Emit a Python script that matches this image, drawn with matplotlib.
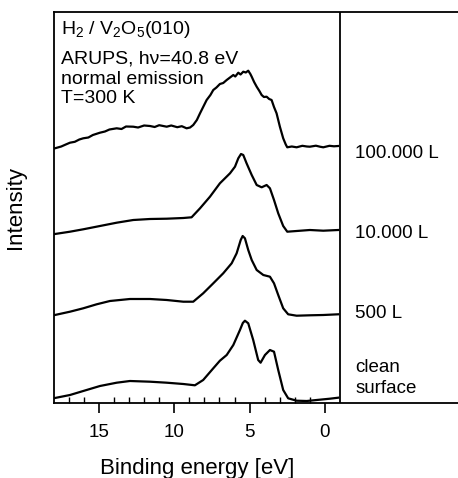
import matplotlib
matplotlib.use('Agg')
import matplotlib.pyplot as plt
from matplotlib.ticker import FixedLocator

plt.rcParams['font.family'] = ['Liberation Sans', 'DejaVu Sans']
plt.rcParams['mathtext.fontset'] = 'custom'
plt.rcParams['mathtext.rm'] = 'Liberation Sans'

# spectra: binding energy [eV] and intensity (arb. units, baseline removed)
e_clean = [17.92, 16.92, 16.04, 14.93, 13.82, 12.94, 11.61, 10.50, 9.40, 8.63,
           8.08, 7.41, 6.97, 6.52, 6.08, 5.64, 5.45, 5.31, 5.09, 4.76, 4.43,
           4.27, 3.98, 3.65, 3.38, 3.10, 2.77, 2.44, 1.88, 1.21, 0.55, -0.33, -0.88]
i_clean = [0, 3, 7, 12, 15.3, 17, 16.3, 15.3, 14, 12.7,
           18, 29.7, 37.3, 43, 53, 68, 75, 77.3, 74.7, 58, 38,
           35.3, 43, 48, 46.3, 28, 8, -0.3, -2.7, -3, -2, -0.7, 0.3]

e_500 = [17.92, 16.92, 16.04, 15.15, 14.27, 12.94, 11.61, 10.50, 9.40, 8.74,
         8.08, 7.41, 6.75, 6.19, 5.86, 5.59, 5.46, 5.31, 5.09, 4.86, 4.53,
         4.09, 3.65, 3.38, 3.10, 2.77, 2.44, 1.88, 1.00, 0.11, -0.88]
i_500 = [0, 3.3, 6.7, 10.7, 14, 16, 16, 15, 13.3, 13.3,
         21.7, 31.7, 41.7, 51.7, 61.7, 75, 79, 76.7, 65, 55, 45,
         40, 38.3, 31.7, 20, 6.7, 0.7, -0.7, -0.3, 0, 0.7]

e_10000 = [17.92, 16.92, 16.04, 14.93, 13.82, 12.72, 11.61, 10.50, 9.40, 8.85,
           8.29, 7.63, 6.97, 6.30, 5.97, 5.75, 5.57, 5.42, 5.20, 4.86, 4.53,
           4.20, 3.87, 3.65, 3.38, 3.10, 2.77, 2.50, 1.88, 1.00, 0.11, -0.88]
i_10000 = [-4, -1.7, 0.7, 4, 7.3, 10, 11, 11.3, 12, 12.7,
           21.7, 33.3, 46.7, 56.7, 63.3, 71.7, 76, 75, 66.7, 55, 45,
           42.7, 45, 41.7, 30, 16.7, 4, -1.7, -1, 0, -0.7, 0]

e_100000 = [17.92, 17.5, 17.2, 16.92, 16.6, 16.3, 16.04, 15.7, 15.4, 14.93,
            14.6, 14.3, 13.82, 13.5, 13.2, 12.72, 12.4, 12.0, 11.61, 11.3,
            11.0, 10.50, 10.2, 9.8, 9.5, 9.18, 8.95, 8.74, 8.5, 8.29,
            7.85, 7.6, 7.41, 7.2, 6.97, 6.75, 6.52, 6.3, 6.08, 5.95,
            5.75, 5.6, 5.42, 5.25, 5.09, 4.95, 4.86, 4.7, 4.53, 4.35,
            4.20, 4.05, 3.87, 3.7, 3.54, 3.38, 3.21, 2.99, 2.77, 2.6,
            2.50, 2.2, 1.88, 1.5, 1.2, 1.00, 0.6, 0.3, 0.11, -0.3, -0.6, -0.88]
i_100000 = [-2.3, -0.5, 1.5, 3.3, 4.2, 6.5, 7.7, 8.5, 11, 13.3,
            14.5, 16.5, 17.7, 17.0, 19.5, 19.3, 18.5, 20.5, 20.0, 19.0,
            20.8, 19.3, 20.5, 18.8, 19.8, 17.7, 18.5, 21, 26, 32.7,
            46, 51, 56, 58.5, 62, 63, 66, 68.5, 71, 69.5,
            73.3, 71.5, 74.3, 73.5, 75.3, 72, 69.3, 64, 59.3, 55,
            51, 49, 49.3, 47, 46, 39, 32.7, 19.3, 7.7, 1.5,
            -1.3, -0.5, -1.3, 0.2, -0.5, -0.7, 0.3, -0.8, -1.3, 0.2, -0.3, 0]

labels = ['clean\nsurface', '500 L', '10.000 L', '100.000 L']
energies = [e_clean, e_500, e_10000, e_100000]
intensities = [i_clean, i_500, i_10000, i_100000]
offsets = [5, 88, 173, 257]
label_y = [25, 90, 170, 250]

fig = plt.figure(figsize=(4.58, 4.78), dpi=100)
ax = fig.add_axes([54 / 458, 75 / 478, 1 - 54 / 458, 391 / 478])

for e, inten, off in zip(energies, intensities, offsets):
    ax.plot(e, [v + off for v in inten], color='black', lw=1.6)

for lab, ly in zip(labels, label_y):
    ax.text(-2.0, ly, lab, fontsize=13.5, ha='left', va='center', linespacing=1.3)

ax.axvline(-1.0, color='black', lw=1.3)

ax.text(17.5, 384, 'H$\\mathregular{_2}$ / V$\\mathregular{_2}$O$\\mathregular{_5}$(010)',
        fontsize=14, ha='left', va='top')
ax.text(17.5, 352, 'ARUPS, h\u03bd=40.8 eV\nnormal emission\nT=300 K',
        fontsize=14, ha='left', va='top', linespacing=1.2)

ax.set_xlim(17.98, -8.83)
ax.set_ylim(0, 391)
ax.xaxis.set_major_locator(FixedLocator([15, 10, 5, 0]))
ax.xaxis.set_minor_locator(FixedLocator([v for v in range(1, 18) if v % 5 != 0]))
ax.tick_params(axis='x', which='major', direction='out', length=7, width=1.2,
               labelsize=13.5, pad=8)
ax.tick_params(axis='x', which='minor', direction='in', length=4, width=1)
ax.set_yticks([])
ax.spines['right'].set_visible(False)
for s in ['top', 'bottom', 'left']:
    ax.spines[s].set_linewidth(1.3)

ax.set_xlabel('Binding energy [eV]', fontsize=16)
ax.xaxis.set_label_coords((197 - 54) / (458 - 54), -0.14)
ax.set_ylabel('Intensity', fontsize=16)
ax.yaxis.set_label_coords(-0.07, 0.5)

fig.savefig('out.png', dpi=100)
